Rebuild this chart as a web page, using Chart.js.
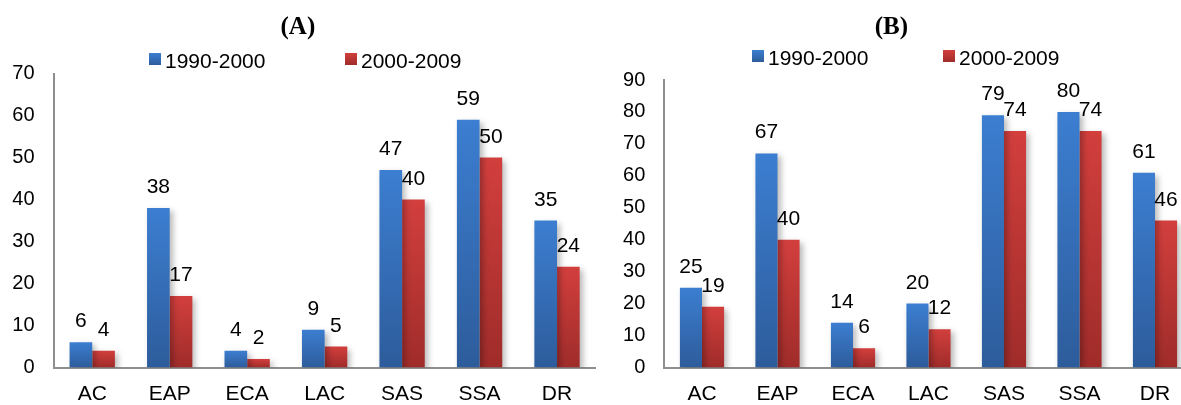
<!DOCTYPE html>
<html>
<head>
<meta charset="utf-8">
<title>(A) / (B)</title>
<script src="https://cdn.jsdelivr.net/npm/chart.js@4.4.1/dist/chart.umd.min.js"></script>
<style>
  html, body { margin: 0; padding: 0; background: #fff; overflow: hidden; }
  .panel { position: absolute; top: 0; height: 405px; }
  #wrapA { left: 0; width: 600px; }
  #wrapB { left: 590px; width: 591px; overflow: hidden; }
</style>
</head>
<body>
<div class="panel" id="wrapA"><canvas id="chartA" width="600" height="405"></canvas></div>
<div class="panel" id="wrapB"><canvas id="chartB" width="606" height="405"></canvas></div>
<script>
const regions = ['AC', 'EAP', 'ECA', 'LAC', 'SAS', 'SSA', 'DR'];
const periods = ['1990-2000', '2000-2009'];

// panel (A)
const panelA_1990 = [6, 38, 4, 9, 47, 59, 35];
const panelA_2000 = [4, 17, 2, 5, 40, 50, 24];
const panelA_max = 70;

// panel (B)
const panelB_1990 = [25, 67, 14, 20, 79, 80, 61];
const panelB_2000 = [19, 40, 6, 12, 74, 74, 46];
const panelB_max = 90;

const tickStep = 10;

const BLUE = ['#3c7ed1', '#2d5c9b'];
const RED = ['#d23f3d', '#9f2c2a'];
const FONT = "'Liberation Sans', Arial, sans-serif";

// vertical gradient per bar, light at the top, darker at the base
function barFill(colors) {
  return (c) => {
    const chart = c.chart;
    if (!chart.chartArea || c.type !== 'data') return colors[0];
    const y = chart.scales.y;
    const top = y.getPixelForValue(c.raw);
    const base = y.getPixelForValue(0);
    if (base - top < 1) return colors[0];
    const g = chart.ctx.createLinearGradient(0, top, 0, base);
    g.addColorStop(0, colors[0]);
    g.addColorStop(1, colors[1]);
    return g;
  };
}

// soft drop shadow under the bars + value labels on top
const barExtras = {
  id: 'barExtras',
  beforeDatasetsDraw(chart) {
    const ctx = chart.ctx;
    ctx.save();
    ctx.shadowColor = 'rgba(0,0,0,0.28)';
    ctx.shadowBlur = 6;
    ctx.shadowOffsetX = 3;
    ctx.shadowOffsetY = 3;
  },
  afterDatasetsDraw(chart) {
    const ctx = chart.ctx;
    ctx.restore();
    ctx.save();
    ctx.font = '21px ' + FONT;
    ctx.fillStyle = '#000';
    ctx.textAlign = 'center';
    ctx.textBaseline = 'alphabetic';
    chart.data.datasets.forEach((ds, i) => {
      chart.getDatasetMeta(i).data.forEach((bar, j) => {
        ctx.fillText(String(ds.data[j]), bar.x, bar.y - 15);
      });
    });
    ctx.restore();
  }
};

// legend drawn like the Excel one: small square, label right next to it
const boxLegend = {
  id: 'boxLegend',
  afterDraw(chart, args, opts) {
    const ctx = chart.ctx;
    ctx.save();
    ctx.font = '21px ' + FONT;
    ctx.fillStyle = '#000';
    ctx.textBaseline = 'alphabetic';
    chart.data.datasets.forEach((ds, i) => {
      const x = opts.xs[i];
      const y = opts.y;
      const colors = i === 0 ? BLUE : RED;
      const g = ctx.createLinearGradient(0, y, 0, y + 12);
      g.addColorStop(0, colors[0]);
      g.addColorStop(1, colors[1]);
      ctx.fillStyle = g;
      ctx.fillRect(x, y, 12, 12);
      ctx.fillStyle = '#000';
      ctx.fillText(ds.label, x + 16, y + 14.5);
    });
    ctx.restore();
  }
};

function makePanel(id, title, blue, red, yMax, layout) {
  return new Chart(document.getElementById(id), {
    type: 'bar',
    data: {
      labels: regions,
      datasets: [
        { label: periods[0], data: blue, backgroundColor: barFill(BLUE), borderWidth: 0 },
        { label: periods[1], data: red, backgroundColor: barFill(RED), borderWidth: 0 }
      ]
    },
    options: {
      responsive: false,
      animation: false,
      events: [],
      layout: { padding: { left: 0, right: layout.padRight, top: 0, bottom: 0 } },
      datasets: { bar: { categoryPercentage: 0.585, barPercentage: 1 } },
      scales: {
        x: {
          grid: { display: false, drawTicks: false },
          border: { display: true, color: '#8e8e8e', width: 2 },
          ticks: { color: '#000', font: { family: FONT, size: 21 }, padding: 14 },
          afterFit: (s) => { s.height = 37.5; }
        },
        y: {
          min: 0,
          max: yMax,
          grid: { display: false, drawTicks: false },
          border: { display: true, color: '#8e8e8e', width: 2 },
          ticks: { stepSize: tickStep, color: '#000', font: { family: FONT, size: 20 }, padding: 19 },
          afterFit: (s) => { s.width = layout.axisX; }
        }
      },
      plugins: {
        legend: { display: false },
        tooltip: { enabled: false },
        title: {
          display: true,
          text: title,
          color: '#000',
          font: { family: "'Liberation Serif', 'Times New Roman', serif", size: 25, weight: 'bold' },
          padding: { top: 12.5, bottom: layout.titleBottom }
        },
        boxLegend: { xs: layout.legendXs, y: layout.legendY }
      }
    },
    plugins: [barExtras, boxLegend]
  });
}

makePanel('chartA', '(A)', panelA_1990, panelA_2000, panelA_max,
  { axisX: 53.5, padRight: 4.25, titleBottom: 31, legendXs: [149, 345], legendY: 53 });

makePanel('chartB', '(B)', panelB_1990, panelB_2000, panelB_max,
  { axisX: 74.25, padRight: 3.25, titleBottom: 37.5, legendXs: [162, 353], legendY: 50 });
</script>
</body>
</html>
